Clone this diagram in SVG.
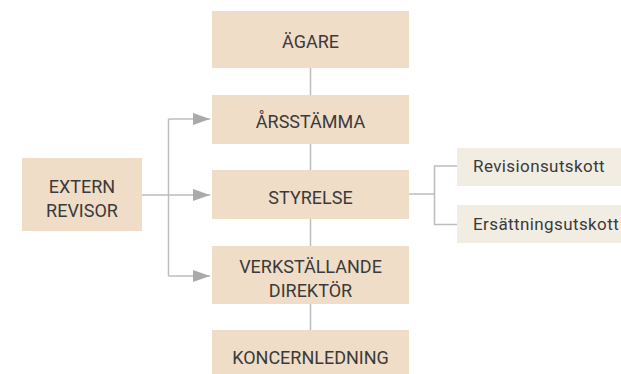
<svg xmlns="http://www.w3.org/2000/svg" width="621" height="374" viewBox="0 0 621 374">
<defs>
<style>
.box{fill:#EFDDC8}
.sub{fill:#F2EDE3}
.t{font-family:Roboto,"Liberation Sans",sans-serif;font-size:18px;fill:#3a3a3a;text-anchor:middle}
.s{font-family:Roboto,"Liberation Sans",sans-serif;font-size:17px;fill:#3a3a3a;letter-spacing:0.4px}
.ln{stroke:#BDBDBD;stroke-width:1.5;fill:none}
</style>
<marker id="ah" markerUnits="userSpaceOnUse" markerWidth="17" markerHeight="13" refX="17" refY="6.5" orient="auto">
<path d="M0,0.5 L17,6.5 L0,12.5 Z" fill="#AAAAAA"/>
</marker>
</defs>
<rect width="621" height="374" fill="#fff"/>
<g id="connectors">
<line class="ln" x1="310.5" y1="68" x2="310.5" y2="95"/>
<line class="ln" x1="310.5" y1="144" x2="310.5" y2="170"/>
<line class="ln" x1="310.5" y1="219" x2="310.5" y2="246"/>
<line class="ln" x1="310.5" y1="304" x2="310.5" y2="330"/>
<line class="ln" x1="142" y1="195" x2="168.5" y2="195"/>
<line class="ln" x1="168.5" y1="119" x2="168.5" y2="276"/>
<line class="ln" x1="168.5" y1="119" x2="210" y2="119" marker-end="url(#ah)"/>
<line class="ln" x1="168.5" y1="195" x2="210" y2="195" marker-end="url(#ah)"/>
<line class="ln" x1="168.5" y1="276" x2="210" y2="276" marker-end="url(#ah)"/>
<line class="ln" x1="409" y1="194" x2="434.5" y2="194"/>
<path class="ln" d="M457,166 H434.5 V224.5 H457"/>
</g>
<g id="agare"><rect class="box" x="212" y="11" width="197" height="57"/><text class="t" x="310.5" y="48">ÄGARE</text></g>
<g id="arsstamma"><rect class="box" x="212" y="95" width="197" height="49"/><text class="t" x="310.5" y="127.5">ÅRSSTÄMMA</text></g>
<g id="styrelse"><rect class="box" x="212" y="170" width="197" height="49"/><text class="t" x="310.5" y="204">STYRELSE</text></g>
<g id="vd"><rect class="box" x="212" y="246" width="197" height="58"/><text class="t" x="310.5" y="272.5">VERKSTÄLLANDE</text><text class="t" x="310.5" y="296.5">DIREKTÖR</text></g>
<g id="koncernledning"><rect class="box" x="212" y="330" width="197" height="44"/><text class="t" x="310.5" y="363.5">KONCERNLEDNING</text></g>
<g id="extern"><rect class="box" x="22" y="158" width="120" height="73"/><text class="t" x="82" y="192.5">EXTERN</text><text class="t" x="82" y="216.5">REVISOR</text></g>
<g id="revisionsutskott"><rect class="sub" x="457" y="148" width="170" height="38"/><text class="s" x="473" y="171.5">Revisionsutskott</text></g>
<g id="ersattningsutskott"><rect class="sub" x="457" y="205" width="170" height="38"/><text class="s" x="473" y="230">Ersättningsutskott</text></g>
</svg>
